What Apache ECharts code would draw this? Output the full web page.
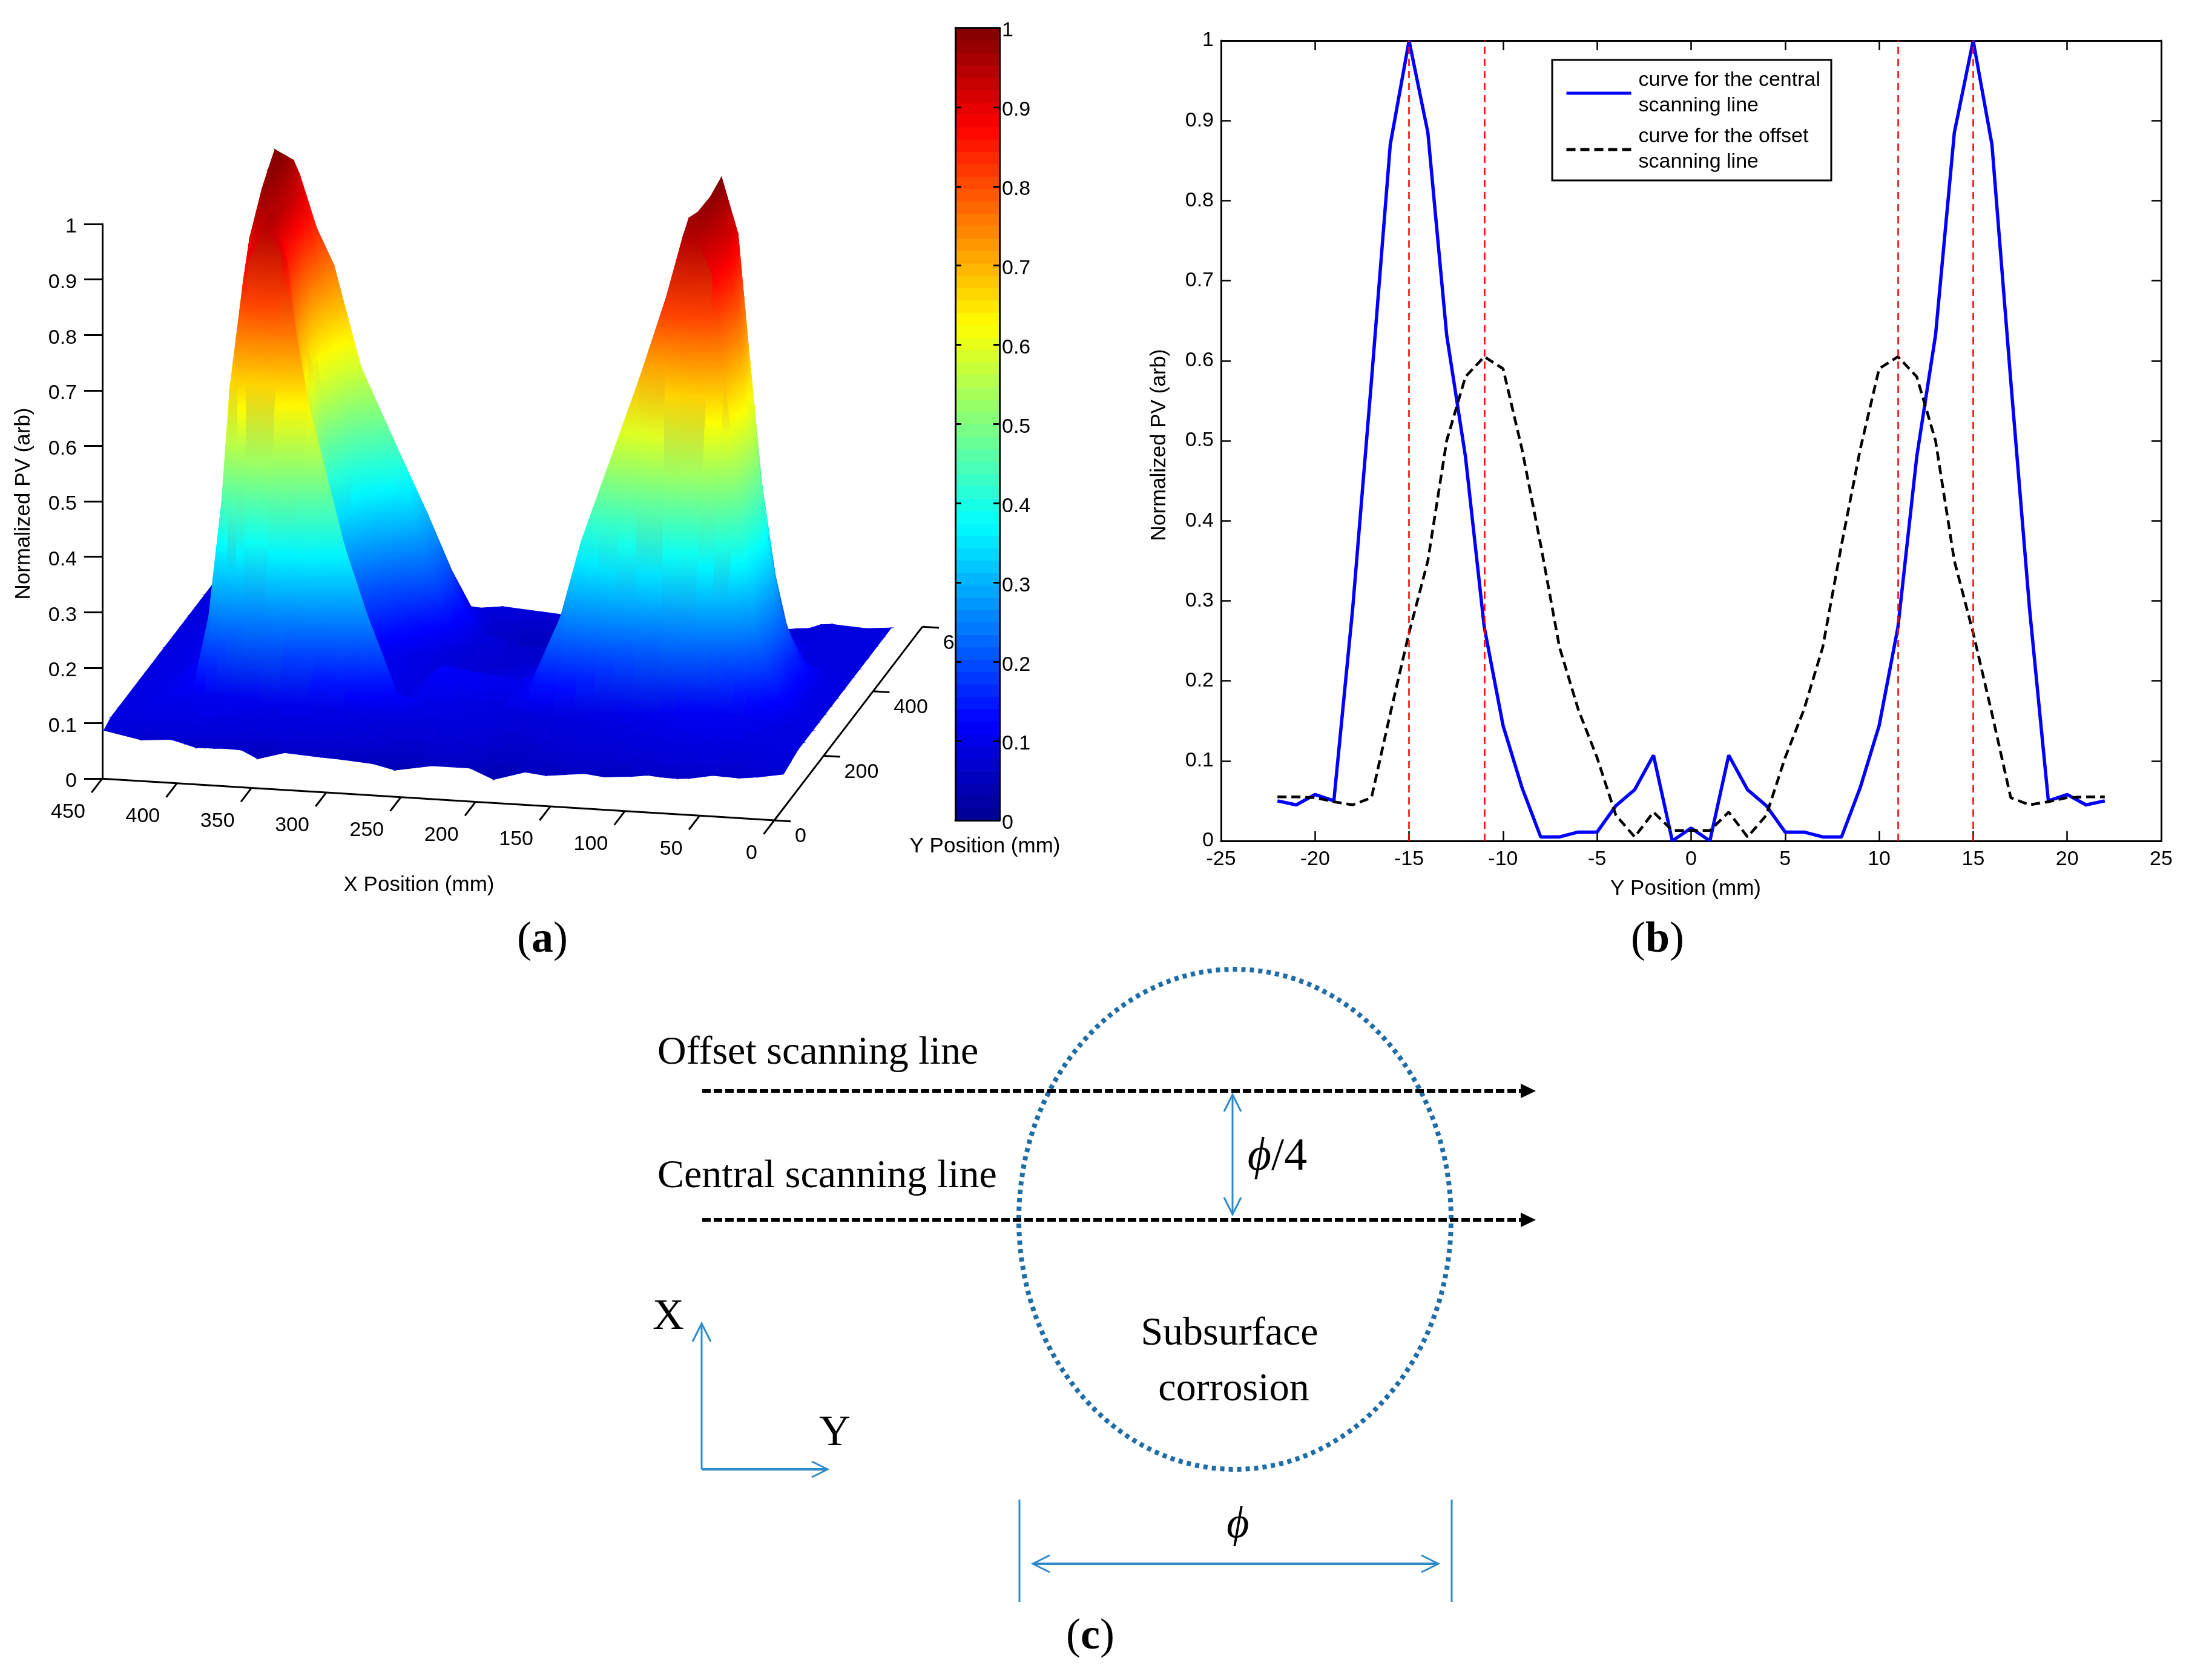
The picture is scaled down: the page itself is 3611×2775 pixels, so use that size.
<!DOCTYPE html>
<html>
<head>
<meta charset="utf-8">
<style>html,body{margin:0;padding:0;background:#fff}#main{width:3611px;height:2775px}</style>
<script src="https://cdn.jsdelivr.net/npm/echarts@6/dist/echarts.min.js"></script>
</head>
<body>
<div id="main"></div>
<script>
// panel (b) curves
const yPositions = [-22,-21,-20,-19,-18,-17,-16,-15,-14,-13,-12,-11,-10,-9,-8,-7,-6,-5,-4,-3,-2,-1,0,1,2,3,4,5,6,7,8,9,10,11,12,13,14,15,16,17,18,19,20,21,22]
const centralLine = [.05,.045,.058,.05,.29,.575,.87,1,.885,.632,.48,.267,.144,.067,.005,.005,.011,.011,.044,.064,.107,0,.016,0,.107,.064,.044,.011,.011,.005,.005,.067,.144,.267,.48,.632,.885,1,.87,.575,.29,.05,.058,.045,.05]
const offsetLine = [.055,.055,.054,.049,.045,.054,.159,.26,.35,.5,.58,.605,.59,.49,.37,.242,.164,.104,.032,.005,.036,.013,.013,.013,.036,.005,.032,.104,.164,.242,.37,.49,.59,.605,.58,.5,.35,.26,.159,.054,.045,.049,.054,.055,.055]
const redMarks = [-15, -11, 11, 15]
const centralName = 'curve for the central\nscanning line'
const offsetName = 'curve for the offset\nscanning line'

// panel (a) surface, heights
const surfaceX = [-5,12,25,35,42,50,58,66,77,86,97,115,128,141,154,168,189,205,230,255,270,290,305,329,347,358,370,376,382,388,396,405,425,450]
const surfaceY = [7,35,65,88,105,125,150,175,200,225,252,290,315,350,385,415,443]
const surfaceZ = [
  [.08,.072,.068,.069,.07,.066,.062,.06,.061,.063,.059,.055,.059,.055,.051,.055,.038,.056,.056,.044,.053,.057,.059,.063,.049,.063,.064,.063,.063,.062,.068,.074,.07,.083],
  [.085,.08,.075,.075,.078,.08,.08,.078,.078,.075,.07,.07,.072,.07,.065,.06,.055,.065,.07,.06,.07,.075,.075,.08,.08,.08,.082,.085,.085,.09,.09,.09,.09,.09],
  [.09,.09,.085,.085,.09,.09,.09,.088,.085,.085,.085,.08,.08,.08,.075,.07,.065,.075,.08,.075,.08,.085,.09,.09,.09,.09,.095,.1,.1,.1,.1,.095,.095,.09],
  [.09,.09,.09,.095,.1,.1,.1,.1,.1,.095,.09,.09,.085,.085,.08,.08,.07,.08,.085,.08,.09,.09,.095,.1,.1,.105,.105,.105,.105,.105,.105,.1,.1,.09],
  [.09,.09,.095,.1,.1,.105,.105,.105,.105,.1,.095,.09,.09,.085,.085,.08,.08,.085,.09,.095,.12,.26,.38,.63,.9,.95,.88,.78,.65,.42,.24,.12,.1,.09],
  [.09,.09,.1,.1,.105,.11,.11,.11,.11,.11,.105,.1,.1,.095,.09,.085,.08,.085,.09,.1,.09,.12,.2,.5,.88,.96,.92,.84,.7,.5,.25,.12,.1,.09],
  [.09,.1,.15,.22,.33,.5,.7,.88,.95,.95,.84,.69,.59,.49,.39,.25,.12,.09,.1,.11,.09,.1,.12,.3,.78,.95,.96,.9,.76,.58,.28,.13,.1,.09],
  [.09,.1,.16,.25,.37,.55,.76,.9,.97,.97,.84,.67,.57,.47,.38,.25,.12,.1,.11,.12,.09,.1,.11,.25,.72,.94,.98,.93,.8,.62,.3,.13,.1,.09],
  [.09,.1,.15,.27,.4,.6,.8,.92,.98,.96,.82,.64,.54,.44,.34,.23,.12,.1,.11,.12,.09,.1,.1,.2,.68,.93,.99,.96,.84,.66,.32,.13,.1,.09],
  [.09,.1,.16,.26,.38,.55,.76,.92,.99,.95,.8,.62,.5,.4,.3,.22,.11,.09,.08,.09,.09,.1,.1,.2,.64,.92,.99,.98,.88,.7,.34,.13,.1,.09],
  [.09,.1,.14,.2,.3,.45,.67,.9,1,.93,.8,.62,.48,.39,.3,.2,.11,.09,.08,.08,.09,.1,.12,.2,.62,.9,.99,1,.9,.72,.36,.14,.1,.09],
  [.09,.09,.1,.12,.17,.25,.42,.58,.7,.65,.55,.42,.3,.22,.16,.12,.09,.08,.07,.08,.09,.14,.2,.45,.72,.86,.96,.96,.86,.68,.33,.13,.1,.09],
  [.09,.09,.09,.1,.12,.16,.26,.38,.48,.45,.36,.26,.18,.13,.1,.09,.08,.07,.07,.08,.12,.28,.44,.58,.76,.82,.92,.9,.8,.6,.28,.12,.1,.09],
  [.09,.09,.09,.09,.1,.11,.14,.2,.26,.24,.19,.13,.1,.09,.08,.08,.07,.07,.07,.09,.15,.3,.38,.48,.6,.68,.7,.68,.6,.42,.2,.11,.09,.09],
  [.09,.09,.09,.09,.09,.09,.1,.11,.12,.12,.1,.09,.08,.08,.07,.065,.055,.055,.055,.07,.12,.23,.27,.32,.35,.36,.35,.33,.28,.2,.13,.09,.09,.09],
  [.09,.09,.09,.09,.085,.085,.085,.085,.085,.08,.08,.08,.075,.075,.07,.065,.06,.06,.06,.07,.09,.1,.11,.12,.13,.13,.13,.13,.12,.11,.09,.09,.085,.09],
  [.09,.086,.088,.09,.088,.08,.078,.075,.075,.075,.08,.08,.08,.08,.08,.08,.075,.075,.08,.085,.08,.085,.085,.085,.08,.08,.08,.08,.08,.085,.09,.085,.085,.09]
]
const xTicks = [0,50,100,150,200,250,300,350,400,450]
const yTicks = [0,200,400,600]
const jetStops = [[0,[0,0,143]],[.125,[0,0,255]],[.375,[0,255,255]],[.625,[255,255,0]],[.875,[255,0,0]],[1,[128,0,0]]]
const colorLevels = 64

const sans = 'Liberation Sans'
const serif = 'Liberation Serif'
const axisBlack = { color: '#000', width: 3 }
const lineBlue = '#2f8ac9'
const nameFont = { fontFamily: sans, fontSize: 35, color: '#000' }

// oblique projection of panel (a), in page pixels of the hidden grid
const proj = (x, y, z) => [1279 - 2.467 * x + 0.408 * y, 1355 - 0.153 * x - 0.533 * y - 916 * z]

const jet = v => {
  const t = Math.min(1, Math.max(0, v))
  for (let i = 1; i < jetStops.length; i++) {
    if (t <= jetStops[i][0]) {
      const [a, ca] = jetStops[i - 1]
      const [b, cb] = jetStops[i]
      const k = (t - a) / (b - a)
      return `rgb(${ca.map((c, n) => Math.round(c + (cb[n] - c) * k)).join(',')})`
    }
  }
  return 'rgb(128,0,0)'
}

// flat colour or a gradient lined up with the triangle's height slope
const triFill = (verts, pts) => {
  const order = [0, 1, 2].sort((p, q) => verts[p] - verts[q])
  const [lo, mid, hi] = order
  const zl = verts[lo], zm = verts[mid], zh = verts[hi]
  if (zh - zl < 0.004) return jet((zl + zh) / 2)
  const k = (zm - zl) / (zh - zl)
  const px = pts[lo][0] + (pts[hi][0] - pts[lo][0]) * k
  const py = pts[lo][1] + (pts[hi][1] - pts[lo][1]) * k
  let nx = -(pts[mid][1] - py)
  let ny = pts[mid][0] - px
  const len = Math.hypot(nx, ny)
  let ex = pts[hi][0], ey = pts[hi][1]
  if (len > 0.01) {
    nx /= len
    ny /= len
    const d = (pts[hi][0] - pts[lo][0]) * nx + (pts[hi][1] - pts[lo][1]) * ny
    ex = pts[lo][0] + nx * d
    ey = pts[lo][1] + ny * d
  }
  const stops = []
  for (let s = 0; s <= 6; s++) stops.push({ offset: s / 6, color: jet(zl + (zh - zl) * s / 6) })
  return new echarts.graphic.LinearGradient(pts[lo][0], pts[lo][1], ex, ey, stops, true)
}

const tri = (a, b, c, api) => {
  const pts = [a, b, c].map(v => api.coord(proj(v[0], v[1], v[2])))
  const fill = triFill([a[2], b[2], c[2]], pts)
  return { type: 'polygon', silent: true, shape: { points: pts }, style: { fill, stroke: fill, lineWidth: 1.2 } }
}

const renderCell = (params, api) => {
  const i = api.value(0)
  const j = api.value(1)
  const v = (m, n) => [surfaceX[m], surfaceY[n], surfaceZ[n][m]]
  return {
    type: 'group',
    children: [
      tri(v(i + 1, j + 1), v(i, j + 1), v(i + 1, j), api),
      tri(v(i, j + 1), v(i, j), v(i + 1, j), api)
    ]
  }
}

// back rows first, far (large x) columns first
const cells = []
for (let j = surfaceY.length - 2; j >= 0; j--) {
  for (let i = surfaceX.length - 2; i >= 0; i--) cells.push([i, j])
}

const seg = (a, b) => ({ type: 'line', shape: { x1: a[0], y1: a[1], x2: b[0], y2: b[1] }, style: { stroke: '#000', lineWidth: 3 } })
const label3d = (text, p, align) => ({
  type: 'text',
  style: { text, x: p[0], y: p[1], align, verticalAlign: 'middle', fontSize: 34, fontFamily: sans, fill: '#000' }
})

const renderXTick = (params, api) => {
  const x = api.value(0)
  const a = api.coord(proj(x, 0, 0))
  const t = api.coord(proj(x, -43, 0))
  const children = [seg(a, t), label3d(String(x), [a[0] - 28, a[1] + 55], 'right')]
  if (x > 0) children.push(seg(a, api.coord(proj(x - 50, 0, 0))))
  return { type: 'group', children }
}

const renderYTick = (params, api) => {
  const y = api.value(0)
  const a = api.coord(proj(0, y, 0))
  const t = api.coord(proj(-11, y, 0))
  const children = [seg(a, t), label3d(String(y), [a[0] + 34, a[1] + 27], 'left')]
  if (y > 0) children.push(seg(a, api.coord(proj(0, y - 200, 0))))
  return { type: 'group', children }
}

const levels = []
for (let i = 0; i < colorLevels; i++) levels.push(i)
const renderBand = (params, api) => {
  const i = api.value(0)
  const a = api.coord([0, (i + 1) / colorLevels])
  const b = api.coord([1, i / colorLevels])
  return {
    type: 'rect',
    shape: { x: a[0], y: a[1], width: b[0] - a[0], height: b[1] - a[1] + 0.6 },
    style: { fill: jet((i + 0.5) / colorLevels) }
  }
}

// diagram helpers for panel (c)
const gLine = (x1, y1, x2, y2, stroke, lineWidth, lineDash) => ({
  type: 'line',
  shape: { x1, y1, x2, y2 },
  style: { stroke, lineWidth, lineDash: lineDash || null }
})
const openHead = (x, y, dx, dy, size, stroke, lineWidth) => {
  const nx = -dy, ny = dx
  return {
    type: 'polyline',
    shape: { points: [[x - dx * size + nx * size * 0.5, y - dy * size + ny * size * 0.5], [x, y], [x - dx * size - nx * size * 0.5, y - dy * size - ny * size * 0.5]] },
    style: { stroke, lineWidth, fill: null }
  }
}
const gText = (text, x, y, fontSize, opt) => ({
  type: 'text',
  style: Object.assign({ text, x, y, fontSize, fontFamily: serif, fill: '#000', align: 'center', verticalAlign: 'middle' }, opt || {})
})
const panelTag = (letter, x, y) => ({
  type: 'text',
  style: {
    text: `{r|(}{b|${letter}}{r|)}`,
    x, y, align: 'center', verticalAlign: 'middle',
    rich: {
      r: { fontFamily: serif, fontSize: 72, fill: '#000' },
      b: { fontFamily: serif, fontSize: 72, fontWeight: 'bold', fill: '#000' }
    }
  }
})

const diagram = [
  { type: 'ellipse', shape: { cx: 2040, cy: 2014, rx: 357, ry: 413 }, style: { fill: null, stroke: '#1f6da6', lineWidth: 8, lineDash: [7, 7] } },
  gLine(1160, 1802, 2515, 1802, '#000', 6, [14, 5]),
  gLine(1160, 2015, 2515, 2015, '#000', 6, [14, 5]),
  { type: 'polygon', shape: { points: [[2512, 1790], [2537, 1802], [2512, 1814]] }, style: { fill: '#000' } },
  { type: 'polygon', shape: { points: [[2512, 2003], [2537, 2015], [2512, 2027]] }, style: { fill: '#000' } },
  gLine(2036, 1808, 2036, 2006, lineBlue, 3),
  openHead(2036, 1808, 0, -1, 28, lineBlue, 3),
  openHead(2036, 2006, 0, 1, 28, lineBlue, 3),
  gLine(1159, 2186, 1159, 2427, lineBlue, 3),
  openHead(1159, 2186, 0, -1, 30, lineBlue, 3),
  gLine(1159, 2427, 1367, 2427, lineBlue, 4),
  openHead(1367, 2427, 1, 0, 26, lineBlue, 3),
  gLine(1684, 2477, 1684, 2646, lineBlue, 3),
  gLine(2398, 2477, 2398, 2646, lineBlue, 3),
  gLine(1706, 2583, 2376, 2583, lineBlue, 4),
  openHead(1706, 2583, -1, 0, 28, lineBlue, 3),
  openHead(2376, 2583, 1, 0, 28, lineBlue, 3),
  gText('Offset scanning line', 1086, 1740, 66, { align: 'left' }),
  gText('Central scanning line', 1086, 1944, 66, { align: 'left' }),
  {
    type: 'text',
    style: {
      text: '{i|ϕ}{n|/4}',
      x: 2110, y: 1912, align: 'center', verticalAlign: 'middle',
      rich: {
        i: { fontFamily: serif, fontSize: 76, fontStyle: 'italic', fill: '#000' },
        n: { fontFamily: serif, fontSize: 76, fill: '#000' }
      }
    }
  },
  gText('Subsurface', 2031, 2204, 66),
  gText('corrosion', 2038, 2296, 66),
  gText('X', 1104, 2176, 72),
  gText('Y', 1379, 2368, 72),
  gText('ϕ', 2045, 2520, 72, { fontStyle: 'italic' }),
  panelTag('a', 896, 1553),
  panelTag('b', 2738, 1553),
  panelTag('c', 1801, 2704),
  { type: 'text', style: { text: 'X Position (mm)', x: 692, y: 1462, align: 'center', verticalAlign: 'middle', fontSize: 35, fontFamily: sans, fill: '#000' } },
  { type: 'text', style: { text: 'Y Position (mm)', x: 1627, y: 1398, align: 'center', verticalAlign: 'middle', fontSize: 35, fontFamily: sans, fill: '#000' } }
]

const hiddenAxis = (gridIndex, min, max, extra) => Object.assign({
  type: 'value', gridIndex, min, max, show: false
}, extra || {})
const tickLabel = { fontFamily: sans, fontSize: 34, color: '#000' }
// labels of panel (a) sit a few pixels below their ticks
const loweredLabel = {
  formatter: '{low|{value}}',
  rich: { low: { fontFamily: sans, fontSize: 34, color: '#000', padding: [10, 0, 0, 0] } }
}
const boxAxis = (gridIndex, position, min, max, interval, labelled, extra) => Object.assign({
  type: 'value',
  gridIndex,
  position,
  min,
  max,
  interval,
  splitLine: { show: false },
  axisLine: { show: true, onZero: false, lineStyle: axisBlack },
  axisTick: { show: true, inside: true, length: 16, lineStyle: { color: '#000', width: 2.5 } },
  axisLabel: labelled ? Object.assign({ show: true, showMinLabel: true, showMaxLabel: true }, tickLabel) : { show: false }
}, extra || {})

const option = {
  backgroundColor: '#fff',
  animation: false,
  textStyle: { fontFamily: sans },
  grid: [
    { left: 0, top: 0, width: 3611, height: 2775 },
    { left: 169, top: 370, width: 10, height: 916 },
    { left: 1578, top: 46, width: 73, height: 1309 },
    { left: 2017, top: 67, width: 1553, height: 1322 }
  ],
  xAxis: [
    hiddenAxis(0, 0, 3611),
    hiddenAxis(1, 0, 1),
    boxAxis(2, 'bottom', 0, 1, 1, false, { z: 6, axisTick: { show: false } }),
    boxAxis(2, 'top', 0, 1, 1, false, { z: 6, axisTick: { show: false } }),
    boxAxis(3, 'bottom', -25, 25, 5, true, {
      name: 'Y Position (mm)',
      nameLocation: 'middle',
      nameGap: 62,
      nameTextStyle: Object.assign({ padding: [0, 18, 0, 0] }, nameFont),
      axisLabel: Object.assign({ margin: 14, showMinLabel: true, showMaxLabel: true }, tickLabel)
    }),
    boxAxis(3, 'top', -25, 25, 5, false)
  ],
  yAxis: [
    hiddenAxis(0, 0, 2775, { inverse: true }),
    {
      type: 'value',
      gridIndex: 1,
      position: 'left',
      min: 0,
      max: 1,
      interval: 0.1,
      name: 'Normalized PV (arb)',
      nameLocation: 'middle',
      nameGap: 112,
      nameTextStyle: Object.assign({ padding: [0, 8, 0, 0] }, nameFont),
      splitLine: { show: false },
      axisLine: { show: true, onZero: false, lineStyle: axisBlack },
      axisTick: { show: true, length: 30, lineStyle: axisBlack },
      axisLabel: Object.assign({ margin: 42, showMinLabel: true, showMaxLabel: true }, loweredLabel)
    },
    boxAxis(2, 'right', 0, 1, 0.1, true, {
      z: 6,
      axisTick: { show: true, inside: true, length: 10, lineStyle: { color: '#000', width: 3 } },
      axisLabel: Object.assign({ margin: 4, showMinLabel: true, showMaxLabel: true }, loweredLabel)
    }),
    boxAxis(2, 'left', 0, 1, 0.1, false, {
      z: 6,
      axisTick: { show: true, inside: true, length: 10, lineStyle: { color: '#000', width: 3 } }
    }),
    boxAxis(3, 'left', 0, 1, 0.1, true, {
      name: 'Normalized PV (arb)',
      nameLocation: 'middle',
      nameGap: 84,
      nameTextStyle: Object.assign({ padding: [0, 14, 0, 0] }, nameFont),
      axisLabel: Object.assign({ margin: 12, showMinLabel: true, showMaxLabel: true }, tickLabel)
    }),
    boxAxis(3, 'right', 0, 1, 0.1, false)
  ],
  legend: {
    data: [centralName, offsetName],
    orient: 'vertical',
    left: 2564,
    top: 99,
    padding: [13, 18, 9, 21],
    itemGap: 9,
    itemWidth: 107,
    itemHeight: 4,
    itemStyle: { opacity: 0 },
    lineStyle: { width: 5 },
    backgroundColor: '#fff',
    borderColor: '#000',
    borderWidth: 3,
    borderRadius: 0,
    selectedMode: false,
    textStyle: { fontFamily: sans, fontSize: 34, lineHeight: 42, color: '#000', padding: [0, 0, 0, 7] }
  },
  series: [
    { type: 'custom', name: 'xTicks', coordinateSystem: 'cartesian2d', xAxisIndex: 0, yAxisIndex: 0, clip: false, z: 1, silent: true, data: xTicks.map(v => [v]), renderItem: renderXTick, encode: { x: -1, y: -1 } },
    { type: 'custom', name: 'yTicks', coordinateSystem: 'cartesian2d', xAxisIndex: 0, yAxisIndex: 0, clip: false, z: 1, silent: true, data: yTicks.map(v => [v]), renderItem: renderYTick, encode: { x: -1, y: -1 } },
    { type: 'custom', name: 'surface', coordinateSystem: 'cartesian2d', xAxisIndex: 0, yAxisIndex: 0, clip: false, z: 2, silent: true, data: cells, renderItem: renderCell, encode: { x: -1, y: -1 } },
    { type: 'custom', name: 'colorbar', coordinateSystem: 'cartesian2d', xAxisIndex: 2, yAxisIndex: 2, clip: false, z: 5, silent: true, data: levels.map(v => [v]), renderItem: renderBand, encode: { x: -1, y: -1 } },
    {
      type: 'line',
      name: centralName,
      xAxisIndex: 4,
      yAxisIndex: 4,
      showSymbol: false,
      symbol: 'none',
      lineStyle: { color: '#0000ff', width: 5.5 },
      itemStyle: { color: '#0000ff' },
      clip: false,
      data: yPositions.map((y, i) => [y, centralLine[i]]),
      markLine: {
        silent: true,
        symbol: 'none',
        label: { show: false },
        lineStyle: { color: '#ff0000', width: 2.5, type: [12, 8] },
        data: redMarks.map(xAxis => ({ xAxis }))
      }
    },
    {
      type: 'line',
      name: offsetName,
      xAxisIndex: 4,
      yAxisIndex: 4,
      showSymbol: false,
      symbol: 'none',
      lineStyle: { color: '#000', width: 4.5, type: [15, 8] },
      itemStyle: { color: '#000' },
      data: yPositions.map((y, i) => [y, offsetLine[i]])
    }
  ],
  graphic: { elements: diagram }
}

const chart = echarts.init(document.getElementById('main'), null, { renderer: 'canvas' })
chart.setOption(option)
</script>
</body>
</html>
